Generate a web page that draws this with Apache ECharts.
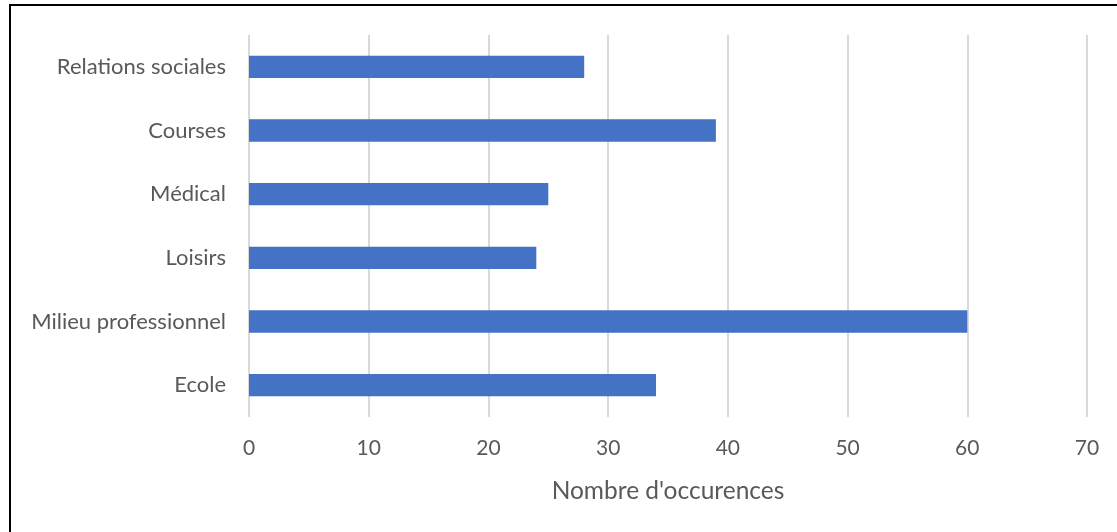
<!DOCTYPE html>
<html>
<head>
<meta charset="utf-8">
<script src="https://cdn.jsdelivr.net/npm/echarts@6/dist/echarts.min.js"></script>
<style>
  html, body { margin: 0; padding: 0; background: #fff; overflow: hidden; }
  #frame { position: absolute; left: 9px; top: 4px; width: 1120px; height: 540px; border: 2px solid #000; box-sizing: border-box; }
  #chart { position: absolute; left: 0; top: 0; width: 1117px; height: 532px; }
</style>
</head>
<body>
<div id="frame"></div>
<div id="chart"></div>
<script>
// Categories from bottom to top (ECharts draws category axis bottom-up)
const categories = ['Ecole', 'Milieu professionnel', 'Loisirs', 'Médical', 'Courses', 'Relations sociales'];
const occurrences = [34, 60, 24, 25, 39, 28];
const axisMax = 70;
const axisStep = 10;

const textColor = '#595959';
const font = 'Lato';

const chart = echarts.init(document.getElementById('chart'), null, { renderer: 'canvas' });
chart.setOption({
  animation: false,
  backgroundColor: 'transparent',
  grid: { left: 249, right: 30, top: 35, bottom: 115, containLabel: false },
  xAxis: {
    type: 'value',
    min: 0,
    max: axisMax,
    interval: axisStep,
    name: "Nombre d'occurences",
    nameLocation: 'middle',
    nameGap: 62,
    nameTextStyle: { color: textColor, fontSize: 24.5, fontFamily: font },
    axisLine: { show: false },
    axisTick: { show: false },
    axisLabel: { color: textColor, fontSize: 21, fontFamily: font, margin: 21 },
    splitLine: { show: true, lineStyle: { color: '#d9d9d9', width: 2 } }
  },
  yAxis: {
    type: 'category',
    data: categories,
    axisLine: { show: false },
    axisTick: { show: false },
    axisLabel: { color: textColor, fontSize: 22, fontFamily: font, margin: 23 },
    splitLine: { show: false }
  },
  series: [{
    type: 'bar',
    data: occurrences,
    barCategoryGap: '65%',
    itemStyle: { color: '#4472c4' }
  }]
});
</script>
</body>
</html>
